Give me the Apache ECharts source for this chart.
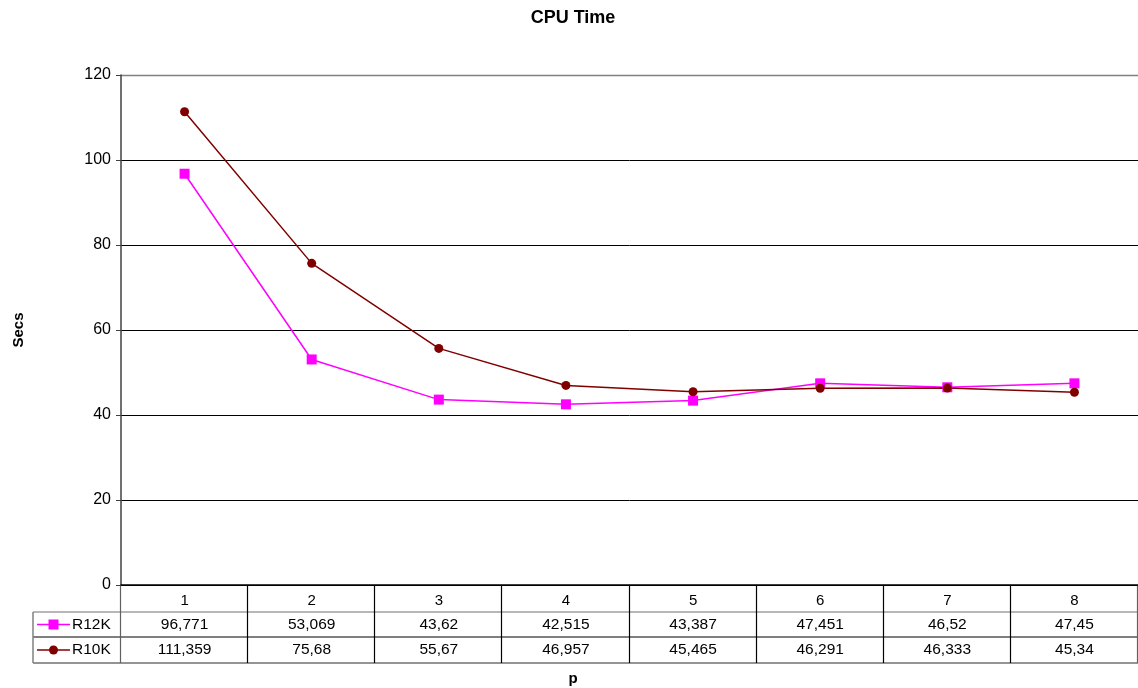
<!DOCTYPE html>
<html><head><meta charset="utf-8">
<script src="https://cdn.jsdelivr.net/npm/echarts@6/dist/echarts.min.js"></script>
<style>html,body{margin:0;padding:0;background:#fff}#c{width:1138px;height:688px}</style>
</head><body><div id="c"></div>
<script>
const categories = ['1','2','3','4','5','6','7','8'];
const r12k = [96.771, 53.069, 43.62, 42.515, 43.387, 47.451, 46.52, 47.45];
const r10k = [111.359, 75.68, 55.67, 46.957, 45.465, 46.291, 46.333, 45.34];
const seriesNames = ['R12K','R10K'];
const yTicks = {min:0, max:120, interval:20};

const FONT = '"Liberation Sans", Arial, sans-serif';
const fmt = v => String(v).replace('.', ',');
const chart = echarts.init(document.getElementById('c'));
const G = {left:121, right:0, top:75, bottom:103, containLabel:false, outerBoundsMode:'none'};
chart.setOption({
  animation:false,
  backgroundColor:'#fff',
  grid:G,
  xAxis:{type:'category', data:categories, boundaryGap:true,
    axisLine:{lineStyle:{color:'#000', width:1.5}}, axisTick:{show:false},
    axisLabel:{fontFamily:FONT, fontSize:15, color:'#000', margin:8}},
  yAxis:{type:'value', min:yTicks.min, max:yTicks.max, interval:yTicks.interval,
    axisLine:{show:true, lineStyle:{color:'#404040', width:1.5}},
    axisTick:{show:true, length:5, lineStyle:{color:'#404040'}},
    axisLabel:{fontFamily:FONT, fontSize:16, color:'#000', margin:10},
    splitLine:{lineStyle:{color:'#000', width:1}},
    name:'Secs', nameLocation:'middle', nameGap:95, nameRotate:90,
    nameTextStyle:{fontFamily:FONT, fontSize:15, fontWeight:'bold', color:'#000'}},
  series:[
    {name:seriesNames[0], type:'line', data:r12k, symbol:'rect', symbolSize:10,
      lineStyle:{color:'#FF00FF', width:1.5}, itemStyle:{color:'#FF00FF'}},
    {name:seriesNames[1], type:'line', data:r10k, symbol:'circle', symbolSize:9,
      lineStyle:{color:'#800000', width:1.5}, itemStyle:{color:'#800000'}}
  ]
});

// data table
const y0 = chart.convertToPixel({yAxisIndex:0}, 0);
const tableLeft = 33, plotLeft = G.left, plotRight = 1138;
const rows = [y0 + 27, y0 + 52, y0 + 78];
const els = [];
rows.forEach((y,i)=>{
  els.push({type:'line', shape:{x1:tableLeft, y1:y, x2:plotRight, y2:y},
    style:{stroke: i===1 ? '#000' : '#707070', lineWidth: i===2 ? 1.5 : 1.2}});
});
els.push({type:'line', shape:{x1:tableLeft, y1:rows[0], x2:tableLeft, y2:rows[2]}, style:{stroke:'#808080', lineWidth:1.5}});
const catW = (plotRight - plotLeft)/categories.length;
for (let i=0;i<=categories.length;i++){
  const x = Math.round(plotLeft + i*catW) - 0.5;
  els.push({type:'line', shape:{x1:x, y1:y0, x2:x, y2:rows[2]}, style:{stroke: (i===0||i===8)?'#606060':'#000', lineWidth:1.2}});
}
const allData = [r12k, r10k];
const colors = ['#FF00FF', '#800000'];
allData.forEach((arr, r)=>{
  const yc = (rows[r] + rows[r+1]) / 2;
  arr.forEach((v, i)=>{
    const xc = chart.convertToPixel({xAxisIndex:0}, categories[i]);
    els.push({type:'text', style:{text:fmt(v), x:xc, y:yc, textAlign:'center', textVerticalAlign:'middle', font:'15.5px '+FONT, fill:'#000'}});
  });
  els.push({type:'line', shape:{x1:37, y1:yc, x2:70, y2:yc}, style:{stroke:colors[r], lineWidth:1.5}});
  if (r===0) els.push({type:'rect', shape:{x:48.5, y:yc-5, width:10, height:10}, style:{fill:colors[r]}});
  else els.push({type:'circle', shape:{cx:53.5, cy:yc, r:4.5}, style:{fill:colors[r]}});
  els.push({type:'text', style:{text:seriesNames[r], x:72, y:yc, textVerticalAlign:'middle', font:'15.5px '+FONT, fill:'#000'}});
});
// title and x-axis name
els.push({type:'text', style:{text:'CPU Time', x:573, y:18, textAlign:'center', textVerticalAlign:'middle', font:'bold 18px '+FONT, fill:'#000'}});
els.push({type:'text', style:{text:'p', x:573, y:679, textAlign:'center', textVerticalAlign:'middle', font:'bold 15px '+FONT, fill:'#000'}});
// top plot border
els.push({type:'line', shape:{x1:plotLeft, y1:G.top+0.5, x2:plotRight, y2:G.top+0.5}, style:{stroke:'#808080', lineWidth:1.5}});
chart.setOption({graphic:{elements:els}});
</script></body></html>
